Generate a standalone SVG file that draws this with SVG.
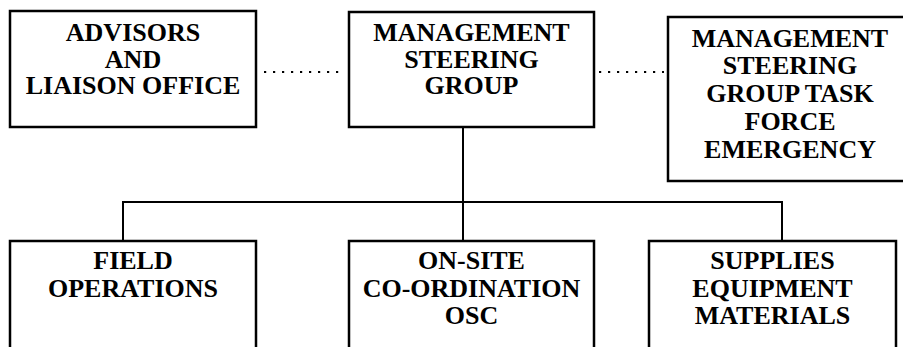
<svg xmlns="http://www.w3.org/2000/svg" width="903" height="347" viewBox="0 0 903 347">
<style>
.box{fill:#fff;stroke:#000;stroke-width:2.5}
.t{font-family:"Liberation Serif","Times New Roman",serif;font-weight:bold;font-size:26px;fill:#000;text-anchor:middle}
.ln{fill:none;stroke:#000;stroke-width:2}
.dot{fill:none;stroke:#000;stroke-width:2.2;stroke-dasharray:2.2 6.8}
</style>
<rect width="903" height="347" fill="#fff"/>
<g id="connectors">
<line class="dot" x1="264" y1="72" x2="345" y2="72"/>
<line class="dot" x1="599" y1="72" x2="664" y2="72"/>
<line class="ln" x1="463" y1="127" x2="463" y2="241"/>
<polyline class="ln" points="123,241 123,202 782,202 782,241"/>
</g>
<g id="advisors">
<rect class="box" x="10" y="11" width="246" height="116"/>
<text class="t" x="133" y="41">ADVISORS</text>
<text class="t" x="133" y="67.5">AND</text>
<text class="t" x="133" y="94">LIAISON OFFICE</text>
</g>
<g id="msg">
<rect class="box" x="349" y="12" width="245" height="115"/>
<text class="t" x="471.5" y="41">MANAGEMENT</text>
<text class="t" x="471.5" y="67.5">STEERING</text>
<text class="t" x="471.5" y="94">GROUP</text>
</g>
<g id="taskforce">
<rect class="box" x="668" y="17" width="245" height="164"/>
<text class="t" x="790" y="46.5">MANAGEMENT</text>
<text class="t" x="790" y="74">STEERING</text>
<text class="t" x="790" y="102">GROUP TASK</text>
<text class="t" x="790" y="130">FORCE</text>
<text class="t" x="790" y="158">EMERGENCY</text>
</g>
<g id="field">
<rect class="box" x="10" y="241" width="246" height="130"/>
<text class="t" x="133" y="269">FIELD</text>
<text class="t" x="133" y="297">OPERATIONS</text>
</g>
<g id="onsite">
<rect class="box" x="349" y="241" width="245" height="130"/>
<text class="t" x="471.5" y="269">ON-SITE</text>
<text class="t" x="471.5" y="297">CO-ORDINATION</text>
<text class="t" x="471.5" y="324">OSC</text>
</g>
<g id="supplies">
<rect class="box" x="649" y="241" width="247" height="130"/>
<text class="t" x="772.5" y="269">SUPPLIES</text>
<text class="t" x="772.5" y="297">EQUIPMENT</text>
<text class="t" x="772.5" y="324">MATERIALS</text>
</g>
</svg>
